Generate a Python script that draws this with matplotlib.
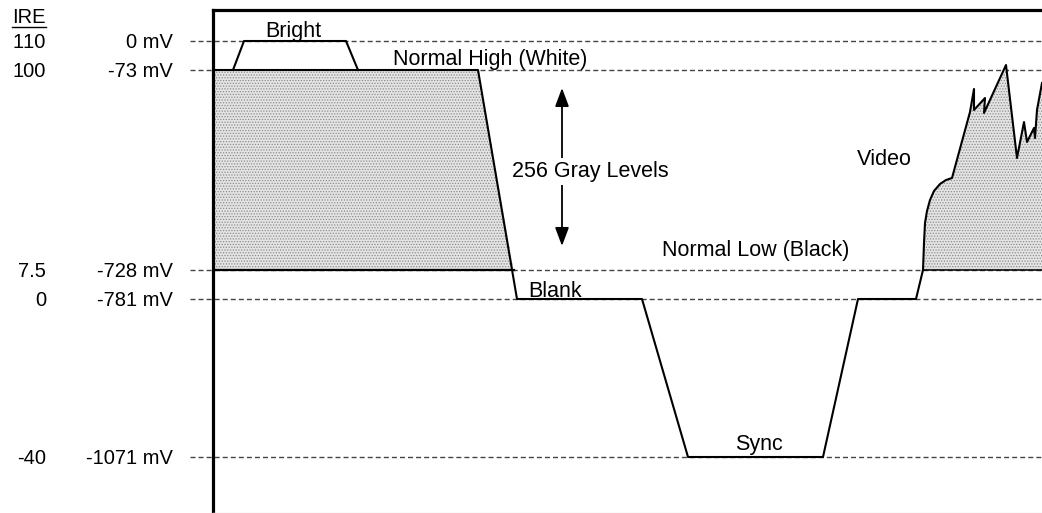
import matplotlib
matplotlib.use('Agg')
from matplotlib import pyplot as plt

plt.rcParams['font.family'] = ['Liberation Sans', 'DejaVu Sans']
plt.rcParams['font.size'] = 15.5
plt.rcParams['text.kerning_factor'] = 6
plt.rcParams['hatch.linewidth'] = 0.6

# reference levels (schematic height on the diagram)
ire_labels = ['110', '100', '7.5', '0', '-40']
mv_labels = ['0 mV', '-73 mV', '-728 mV', '-781 mV', '-1071 mV']
level_y = [472, 443, 243, 214, 56]
BRIGHT, WHITE, BLACK, BLANK, SYNC = level_y

# bright pulse
bright_x = [20, 31, 133, 145]
bright_y = [WHITE, BRIGHT, BRIGHT, WHITE]

# main line: white level -> blank -> sync -> blank -> video
line_x = [0, 265, 304, 429, 475, 610, 645, 703, 710]
line_y = [WHITE, WHITE, BLANK, BLANK, SYNC, SYNC, BLANK, BLANK, BLACK]

# video part (right side)
video_x = [710, 711, 712, 714, 717, 721, 727, 733, 739, 757, 761, 761, 772, 771,
           793, 804, 811, 814, 821, 822, 824, 829]
video_y = [243, 270, 290, 302, 313, 322, 329, 333, 335, 401, 424, 403, 415, 400,
           448, 355, 391, 371, 385, 375, 403, 430]

# gray block on the left
block_x = [0, 0, 265, 300.6]
block_y = [BLACK, WHITE, WHITE, BLACK]

fig = plt.figure(figsize=(10.42, 5.13), dpi=100)
ax = fig.add_axes([213 / 1042, 0, 829 / 1042, 503 / 513])
ax.set_xlim(0, 829)
ax.set_ylim(0, 503)
ax.set_xticks([])
ax.set_yticks([])
ax.spines['right'].set_visible(False)
ax.spines['left'].set_linewidth(2.3)
ax.spines['top'].set_linewidth(2.3)
ax.spines['bottom'].set_color('#e6e6e6')
ax.spines['bottom'].set_linewidth(1)

# dashed reference lines
for y in level_y:
    ax.plot([-23, 829], [y, y], color='#444444', lw=1, dashes=(3.6, 2.2),
            clip_on=False, zorder=1)

# gray fills
ax.fill(block_x, block_y, facecolor='#e4e4e4', edgecolor='#8c8c8c', hatch='......',
        lw=0, zorder=2)
ax.fill_between(video_x, BLACK, video_y, facecolor='#e4e4e4', edgecolor='#8c8c8c',
                hatch='......', lw=0, zorder=2)

# signal lines
ax.plot(bright_x, bright_y, color='black', lw=1.5, zorder=4)
ax.plot(line_x, line_y, color='black', lw=1.5, zorder=4)
ax.plot(video_x, video_y, color='black', lw=1.5, zorder=4)
ax.plot([0, 300.6], [BLACK, BLACK], color='black', lw=1.6, zorder=4)
ax.plot([710, 829], [BLACK, BLACK], color='black', lw=1.1, zorder=4)

# gray level arrow
ax.annotate('', xy=(349, 425), xytext=(349, 267),
            arrowprops=dict(arrowstyle='<|-|>,head_length=0.8,head_width=0.3',
                            color='black', lw=1.3, mutation_scale=14,
                            shrinkA=0, shrinkB=0))

# text labels
ax.text(80.5, 476, 'Bright', ha='center', va='baseline')
ax.text(180, 448, 'Normal High (White)', ha='left', va='baseline')
ax.text(299, 336, '256 Gray Levels', ha='left', va='baseline',
        bbox=dict(facecolor='white', edgecolor='none', pad=2))
ax.text(644, 348, 'Video', ha='left', va='baseline')
ax.text(449.5, 257, 'Normal Low (Black)', ha='left', va='baseline')
ax.text(315, 216, 'Blank', ha='left', va='baseline')
ax.text(546, 63, 'Sync', ha='center', va='baseline')

# level labels left of the frame
for lab, y in zip(ire_labels, level_y):
    ax.text(-167, y - 7, lab, ha='right', va='baseline', fontsize=14.5, clip_on=False)
for lab, y in zip(mv_labels, level_y):
    ax.text(-40, y - 7, lab, ha='right', va='baseline', fontsize=14.5, clip_on=False)
ax.text(-184, 490, 'IRE', ha='center', va='baseline', fontsize=14.5, clip_on=False)
ax.plot([-201, -167], [486, 486], color='black', lw=1, clip_on=False)

fig.savefig('out.png', dpi=100)
